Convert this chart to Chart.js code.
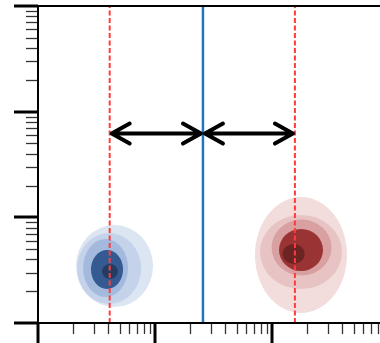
<!DOCTYPE html>
<html>
<head>
<meta charset="utf-8">
<script src="https://cdn.jsdelivr.net/npm/chart.js@4/dist/chart.umd.min.js"></script>
<style>
  html, body { margin: 0; padding: 0; background: #fff; }
  #wrap { width: 380px; height: 343px; }
</style>
</head>
<body>
<div id="wrap"><canvas id="chart" width="380" height="343"></canvas></div>
<script>
// --- DATA ---

// axis ranges (log scales, no labels)
const xRange = [1, 838];
const yRange = [1, 1000];
const decades = [1, 10, 100, 1000];
const minorSteps = [2, 3, 4, 5, 6, 7, 8, 9];

// reference lines
const redLinesX = [4.1, 157];
const blueLineX = 25.7;
const arrowY = 62;

// blue blob: centres and half sizes (in decades), biggest first
const blueCx = [4.51, 4.05, 3.78, 3.89, 4.12];
const blueCy = [3.46, 3.28, 3.32, 3.21, 3.07];
const blueRx = [0.329, 0.274, 0.192, 0.137, 0.068];
const blueRy = [0.388, 0.336, 0.274, 0.185, 0.071];
const blueFill = ['#dce5f2', '#c4d3ea', '#a3bade', '#345a91', '#253c61'];

// red blob
const redCx = [177, 177, 179, 177, 153];
const redCy = [4.40, 4.70, 5.18, 4.91, 4.50];
const redRx = [0.393, 0.350, 0.256, 0.188, 0.094];
const redRy = [0.549, 0.350, 0.265, 0.199, 0.095];
const redFill = ['#f2dcdc', '#e8c3c3', '#d8a0a0', '#9a3434', '#6c2323'];


// --- HELPERS ---

function drawBlob(chart, cxs, cys, rxs, rys, fills) {
    const ctx = chart.ctx;
    const sx = chart.scales.x;
    const sy = chart.scales.y;
    for (let i = 0; i < cxs.length; i++) {
        const px = sx.getPixelForValue(cxs[i]);
        const py = sy.getPixelForValue(cys[i]);
        const rx = sx.getPixelForValue(cxs[i] * Math.pow(10, rxs[i])) - px;
        const ry = py - sy.getPixelForValue(cys[i] * Math.pow(10, rys[i]));
        ctx.beginPath();
        ctx.ellipse(px, py, rx, ry, 0, 0, Math.PI * 2);
        ctx.fillStyle = fills[i];
        ctx.fill();
    }
}

function drawArrow(ctx, x1, x2, y) {
    const gap = 2, hx = 18, hy = 10;
    const a = Math.min(x1, x2) + gap;
    const b = Math.max(x1, x2) - gap;
    ctx.beginPath();
    ctx.moveTo(a, y); ctx.lineTo(b, y);
    ctx.moveTo(a + hx, y - hy); ctx.lineTo(a, y); ctx.lineTo(a + hx, y + hy);
    ctx.moveTo(b - hx, y - hy); ctx.lineTo(b, y); ctx.lineTo(b - hx, y + hy);
    ctx.stroke();
}

// ellipses under the lines
const blobsPlugin = {
    id: 'blobs',
    beforeDatasetsDraw(chart) {
        const ctx = chart.ctx;
        ctx.save();
        drawBlob(chart, blueCx, blueCy, blueRx, blueRy, blueFill);
        drawBlob(chart, redCx, redCy, redRx, redRy, redFill);
        ctx.restore();
    }
};

// spines, log ticks and arrows
const framePlugin = {
    id: 'frame',
    afterDraw(chart) {
        const ctx = chart.ctx;
        const sx = chart.scales.x;
        const sy = chart.scales.y;
        const area = chart.chartArea;
        ctx.save();
        ctx.strokeStyle = '#000';
        ctx.lineCap = 'butt';

        // ticks
        decades.forEach(d => {
            // major
            ctx.lineWidth = 3;
            if (d >= xRange[0] && d <= xRange[1]) {
                const px = Math.round(sx.getPixelForValue(d));
                ctx.beginPath(); ctx.moveTo(px, area.bottom); ctx.lineTo(px, area.bottom + 24); ctx.stroke();
            }
            if (d >= yRange[0] && d <= yRange[1]) {
                const py = Math.round(sy.getPixelForValue(d));
                ctx.beginPath(); ctx.moveTo(area.left - 24, py); ctx.lineTo(area.left, py); ctx.stroke();
            }
            // minor
            ctx.lineWidth = 1.3;
            ctx.strokeStyle = '#333';
            minorSteps.forEach(m => {
                const v = d * m;
                if (v > xRange[0] && v < xRange[1]) {
                    const px = Math.round(sx.getPixelForValue(v)) + 0.5;
                    ctx.beginPath(); ctx.moveTo(px, area.bottom); ctx.lineTo(px, area.bottom + 11); ctx.stroke();
                }
                if (v > yRange[0] && v < yRange[1]) {
                    const py = Math.round(sy.getPixelForValue(v)) + 0.5;
                    ctx.beginPath(); ctx.moveTo(area.left - 12, py); ctx.lineTo(area.left, py); ctx.stroke();
                }
            });
            ctx.strokeStyle = '#000';
        });

        // spines
        ctx.lineWidth = 2;
        ctx.beginPath();
        ctx.moveTo(area.right, area.top); ctx.lineTo(area.left, area.top);
        ctx.lineTo(area.left, area.bottom); ctx.lineTo(area.right, area.bottom);
        ctx.stroke();

        // arrows
        ctx.lineWidth = 4;
        ctx.lineCap = 'round';
        ctx.lineJoin = 'round';
        const ay = sy.getPixelForValue(arrowY);
        const pb = sx.getPixelForValue(blueLineX);
        drawArrow(ctx, sx.getPixelForValue(redLinesX[0]), pb, ay);
        drawArrow(ctx, pb, sx.getPixelForValue(redLinesX[1]), ay);
        ctx.restore();
    }
};

function verticalLine(x, color, width, dash) {
    return {
        data: [{ x: x, y: yRange[0] }, { x: x, y: yRange[1] }],
        borderColor: color,
        borderWidth: width,
        borderDash: dash,
        showLine: true,
        pointRadius: 0
    };
}

document.addEventListener('DOMContentLoaded', () => {
    new Chart(document.getElementById('chart'), {
        type: 'scatter',
        data: {
            datasets: [
                verticalLine(redLinesX[0], '#ff3b3b', 2, [5, 2.5]),
                verticalLine(redLinesX[1], '#ff3b3b', 2, [5, 2.5]),
                verticalLine(blueLineX, '#1f74c4', 2.5, [])
            ]
        },
        options: {
            responsive: false,
            animation: false,
            layout: { padding: { left: 38, top: 6, right: 0, bottom: 20 } },
            plugins: { legend: { display: false }, tooltip: { enabled: false } },
            scales: {
                x: { type: 'logarithmic', min: xRange[0], max: xRange[1], display: false },
                y: { type: 'logarithmic', min: yRange[0], max: yRange[1], display: false }
            }
        },
        plugins: [blobsPlugin, framePlugin]
    });
});
</script>
</body>
</html>
